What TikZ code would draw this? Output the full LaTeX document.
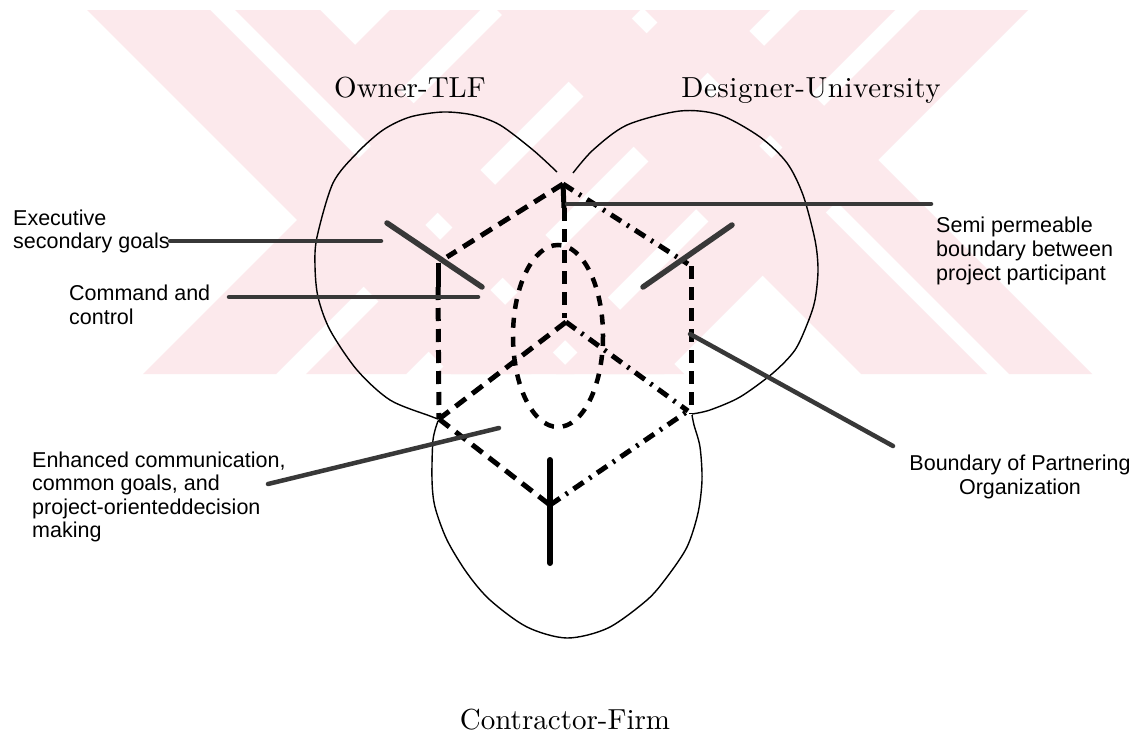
\documentclass[tikz,border=0pt]{standalone}
\usepackage{fontspec}
\newfontfamily\lbl{Liberation Sans}
\newfontfamily\ttlA{lmroman10-regular.otf}
\newfontfamily\ttlB[LetterSpace=2]{lmroman10-regular.otf}
\definecolor{wm}{RGB}{252,233,236}
\begin{document}
\begin{tikzpicture}[x=1pt,y=-1pt,
  outline/.style={line width=1.4pt, line join=round},
  cubedash/.style={line width=5pt, dash pattern=on 13pt off 8pt},
  cubedot/.style={line width=5pt, dash pattern=on 12pt off 7pt on 2.5pt off 7pt},
  cubesolid/.style={line width=5pt},
  leader/.style={line width=4.5pt, draw=black!78, line cap=round},
  title/.style={inner sep=0pt, anchor=base},
  note/.style={font=\lbl\fontsize{21.5}{24}\selectfont, inner sep=0pt, anchor=base west},
  notec/.style={font=\lbl\fontsize{21.5}{24}\selectfont, inner sep=0pt, anchor=base}]
\useasboundingbox (0,0) rectangle (1139,736);
\fill[white] (0,0) rectangle (1139,736);
% watermark
\begin{scope}
\clip (0,10) rectangle (1139,374);
\fill[wm] (87,10) -- (210,10) -- (574,374) -- (451,374) -- cycle;
\fill[wm] (235,10) -- (320,10) -- (684,374) -- (599,374) -- cycle;
\fill[wm] (497,10) -- (623,10) -- (987,374) -- (861,374) -- cycle;
\fill[wm] (645,10) -- (728,10) -- (1092,374) -- (1009,374) -- cycle;
\fill[wm] (507,10) -- (640,10) -- (276,374) -- (143,374) -- cycle;
\fill[wm] (670,10) -- (770,10) -- (406,374) -- (306,374) -- cycle;
\fill[wm] (800,10) -- (895,10) -- (531,374) -- (436,374) -- cycle;
\fill[wm] (920,10) -- (1028,10) -- (664,374) -- (556,374) -- cycle;
\fill[wm] (390,10) -- (480,10) -- (395,95) -- (350,50) -- cycle;
\end{scope}
% titles
\node[title, font=\ttlA\fontsize{29}{34}\selectfont] (owner) at (410,97) {Owner-TLF};
\node[title, font=\ttlB\fontsize{29}{34}\selectfont] (designer) at (811,97) {Designer-University};
\node[title, font=\ttlA\fontsize{29}{34}\selectfont] (contractor) at (565,729) {Contractor-Firm};
% outlines
\draw[outline] plot[smooth] coordinates {(557,172) (533,150) (500,125) (473,115) (443,112) (410,117) (383,130) (357,153) (333,183) (317,237) (315,266) (318,297) (330,330) (357,370) (390,400) (430,416) (438,419)};
\draw[outline] plot[smooth] coordinates {(573,173) (593,150) (627,125) (680,111) (720,115) (760,137) (787,163) (803,195) (815,240) (818,270) (815,300) (808,322) (795,350) (773,373) (740,397) (710,410) (692,414)};
\draw[outline] plot[smooth] coordinates {(438,421) (433,440) (432,480) (435,507) (447,540) (467,573) (490,600) (527,627) (567,638) (608,628) (647,600) (667,577) (687,547) (698,513) (702,480) (700,447) (694,425) (692,415)};
% cube vertices
\coordinate (T) at (563,184);
\coordinate (Ts) at (564,208);
\coordinate (TL) at (447,257);
\coordinate (UL) at (438,263);
\coordinate (ULs) at (438,287);
\coordinate (UR) at (691,266);
\coordinate (URt) at (688,264);
\coordinate (C) at (564,318);
\coordinate (Cs) at (566,322);
\coordinate (LL) at (439,419);
\coordinate (LR) at (691,414);
\coordinate (LRl) at (688,411);
\coordinate (B) at (550,505);
\coordinate (Bt) at (550,460);
\coordinate (Bb) at (550,563);
\coordinate (E) at (558,336);
% cube lines
\draw[cubedash] (T) -- (TL);
\draw[cubedot] (T) -- (URt);
\draw[cubesolid] (T) -- (Ts);
\draw[cubedash] (Ts) -- (C);
\draw[cubesolid] (UL) -- (ULs);
\draw[cubedash] (ULs) -- (LL);
\draw[cubedash] (UR) -- (LR);
\draw[cubedash] (Cs) -- (LL);
\draw[cubedot] (Cs) -- (LRl);
\draw[cubedash] (LL) -- (B);
\draw[cubedot] (B) -- (LRl);
\draw[line width=6pt, line cap=round] (Bt) -- (Bb);
\draw[line width=4.5pt, dash pattern=on 10pt off 9pt] (E) ellipse [x radius=45, y radius=91];
% leader coordinates
\coordinate (exL) at (170,241); \coordinate (exR) at (381,241);
\coordinate (cmL) at (229,297); \coordinate (cmR) at (478,297);
\coordinate (smL) at (567,204); \coordinate (smR) at (931,204);
\coordinate (bdL) at (690,334); \coordinate (bdR) at (893,446);
\coordinate (enL) at (268,484); \coordinate (enR) at (499,428);
\coordinate (lsA) at (387,223); \coordinate (lsB) at (482,287);
\coordinate (rsA) at (643,287); \coordinate (rsB) at (732,225);
\draw[leader] (exL) -- (exR);
\draw[leader] (cmL) -- (cmR);
\draw[leader] (smL) -- (smR);
\draw[leader] (bdL) -- (bdR);
\draw[leader] (enL) -- (enR);
\draw[leader, line width=5.5pt] (lsA) -- (lsB);
\draw[leader, line width=5.5pt] (rsA) -- (rsB);
% labels
\node[note] (ex1) at (13,225) {Executive};
\node[note] (ex2) at (13,248) {secondary goals};
\node[note] (cm1) at (69,300) {Command and};
\node[note] (cm2) at (69,324) {control};
\node[note] (sm1) at (936,232) {Semi permeable};
\node[note] (sm2) at (936,256) {boundary between};
\node[note] (sm3) at (936,280) {project participant};
\node[notec] (bd1) at (1020,470) {Boundary of Partnering};
\node[notec] (bd2) at (1020,494) {Organization};
\node[note] (en1) at (32,467) {Enhanced communication,};
\node[note] (en2) at (32,490.5) {common goals, and};
\node[note] (en3) at (32,514) {project-orienteddecision};
\node[note] (en4) at (32,537.5) {making};
\end{tikzpicture}
\end{document}
